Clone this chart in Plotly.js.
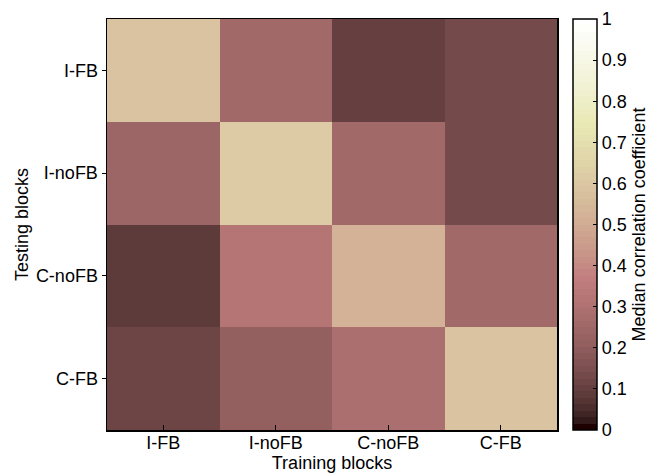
<!DOCTYPE html>
<html>
<head>
<meta charset="utf-8">
<script src="https://cdn.plot.ly/plotly-3.0.1.min.js"></script>
<style>html,body{margin:0;padding:0;background:#fff;}#chart{width:661px;height:475px;}</style>
</head>
<body>
<div id="chart"></div>
<script>
const trainingBlocks = ['I-FB', 'I-noFB', 'C-noFB', 'C-FB'];
const testingBlocks = ['I-FB', 'I-noFB', 'C-noFB', 'C-FB'];
const rowIFB    = [0.58, 0.25, 0.10, 0.14];
const rowINoFB  = [0.24, 0.62, 0.26, 0.13];
const rowCNoFB  = [0.09, 0.32, 0.53, 0.26];
const rowCFB    = [0.11, 0.21, 0.29, 0.58];
const colorbarTicks = [0, 0.1, 0.2, 0.3, 0.4, 0.5, 0.6, 0.7, 0.8, 0.9, 1];
const colorbarTickText = ['0', '0.1', '0.2', '0.3', '0.4', '0.5', '0.6', '0.7', '0.8', '0.9', '1'];

// MATLAB "pink" colormap, 64 levels: sqrt((2*gray + hot)/3)
function pinkMap(n) {
  const n1 = Math.floor(3 / 8 * n);
  const cols = [];
  for (let i = 0; i < n; i++) {
    const g = i / (n - 1);
    const hr = i < n1 ? (i + 1) / n1 : 1;
    const hg = i < n1 ? 0 : (i < 2 * n1 ? (i - n1 + 1) / n1 : 1);
    const hb = i < 2 * n1 ? 0 : (i - 2 * n1 + 1) / (n - 2 * n1);
    const f = v => Math.round(255 * Math.sqrt((2 * g + v) / 3));
    cols.push('rgb(' + f(hr) + ',' + f(hg) + ',' + f(hb) + ')');
  }
  const scale = [];
  for (let i = 0; i < n; i++) {
    scale.push([i / n, cols[i]]);
    scale.push([(i + 1) / n, cols[i]]);
  }
  return scale;
}

const fam = 'Liberation Sans, Arial, sans-serif';
const fnt = {family: fam, size: 18, color: '#000'};

const trace = {
  type: 'heatmap',
  x: trainingBlocks,
  y: testingBlocks,
  z: [rowIFB, rowINoFB, rowCNoFB, rowCFB],
  zmin: 0, zmax: 1,
  colorscale: pinkMap(64),
  hoverinfo: 'skip',
  colorbar: {
    x: 1.035, xanchor: 'left', y: 0.5, yanchor: 'middle',
    len: 1, lenmode: 'fraction', thickness: 24, thicknessmode: 'pixels',
    outlinewidth: 1.5, outlinecolor: '#000',
    tickmode: 'array', tickvals: colorbarTicks, ticktext: colorbarTickText,
    ticks: 'inside', ticklen: 4, tickcolor: '#000',
    tickfont: fnt,
    title: {text: 'Median correlation coefficient', side: 'right', font: fnt},
    xpad: 0, ypad: 0
  }
};

const layout = {
  width: 661, height: 475,
  margin: {l: 107, r: 100, t: 19, b: 45},
  paper_bgcolor: '#fff', plot_bgcolor: '#fff',
  font: fnt,
  xaxis: {
    type: 'category',
    ticks: 'inside', ticklen: 5, tickcolor: '#000',
    showline: true, linecolor: '#000', linewidth: 1.5, mirror: true,
    tickfont: fnt,
    ticklabelstandoff: -4,
    title: {text: 'Training blocks', font: fnt, standoff: 0},
    automargin: false
  },
  yaxis: {
    type: 'category', autorange: 'reversed',
    ticks: 'outside', ticklen: 4, tickcolor: '#000',
    showline: true, linecolor: '#000', linewidth: 1.5, mirror: true,
    tickfont: fnt,
    title: {text: 'Testing blocks', font: fnt, standoff: 2},
    automargin: false
  }
};

Plotly.newPlot('chart', [trace], layout, {displayModeBar: false, staticPlot: true});
</script>
</body>
</html>
